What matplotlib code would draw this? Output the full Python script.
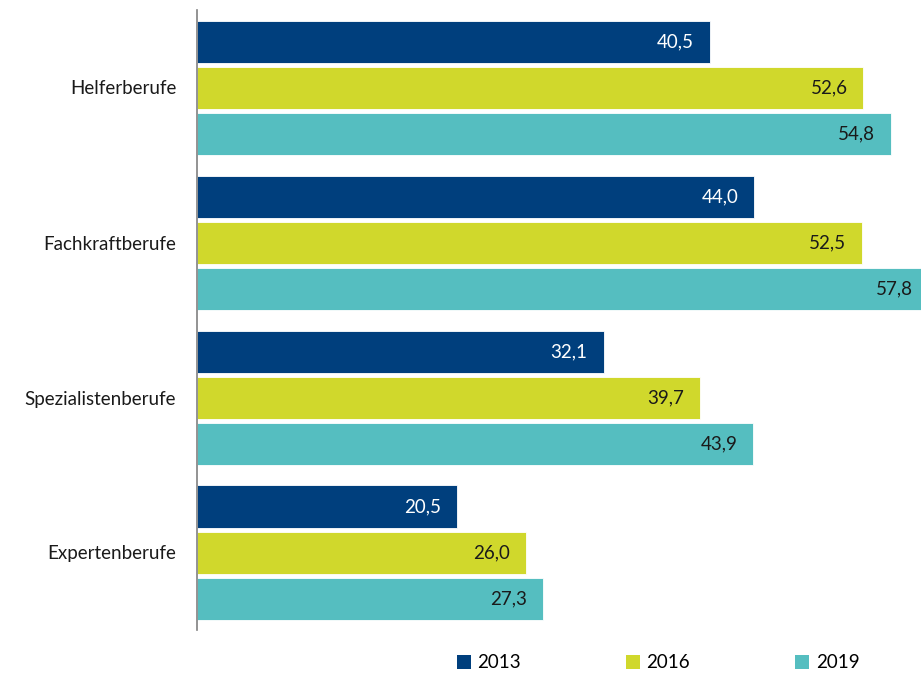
import numpy as np
import matplotlib.pyplot as plt
from matplotlib.patches import Patch

plt.rcParams['font.family'] = ['Lato', 'DejaVu Sans']

# 데이터
categories = ["Helferberufe", "Fachkraftberufe", "Spezialistenberufe", "Expertenberufe"]
years = ["2013", "2016", "2019"]
values_2013 = [40.5, 44.0, 32.1, 20.5]
values_2016 = [52.6, 52.5, 39.7, 26.0]
values_2019 = [54.8, 57.8, 43.9, 27.3]

colors = ["#003F7D", "#D0D82C", "#55BEC0"]
text_colors = ["white", "#1a1a1a", "#1a1a1a"]

fig = plt.figure(figsize=(9.21, 6.75), dpi=100)
ax = fig.add_axes([197 / 921, 1 - 630 / 675, 1 - 197 / 921, 620 / 675])

y = np.arange(len(categories))
pitch = 46 / 155
height = 42 / 155

series = [values_2013, values_2016, values_2019]
for k, vals in enumerate(series):
    pos = y + (k - 1) * pitch
    ax.barh(pos, vals, height=height, color=colors[k], edgecolor="white",
            linewidth=0.6, label=years[k])
    for p, v in zip(pos, vals):
        ax.annotate(f"{v:.1f}".replace(".", ","), xy=(v, p), xytext=(-16, 0),
                    textcoords="offset pixels", ha="right", va="center",
                    fontsize=13.5, color=text_colors[k], annotation_clip=False)

ax.set_xlim(0, 724 / 12.67)
ax.set_ylim(3.5, -0.5)
ax.set_yticks(y)
ax.set_yticklabels(categories, fontsize=13.5, color="#1a1a1a")
ax.tick_params(axis="y", length=0, pad=15)
ax.set_xticks([])
for s in ["top", "right", "bottom"]:
    ax.spines[s].set_visible(False)
ax.spines["left"].set_color("#808080")
ax.spines["left"].set_linewidth(1.2)

handles = [Patch(facecolor=c, edgecolor="none") for c in colors]
fig.legend(handles, years, loc="center", bbox_to_anchor=(658 / 921, 1 - 663 / 675),
           ncol=3, frameon=False, fontsize=13.5, handlelength=0.75, handleheight=0.75,
           handletextpad=0.35, columnspacing=5.6)

fig.savefig("out.png", dpi=100)
